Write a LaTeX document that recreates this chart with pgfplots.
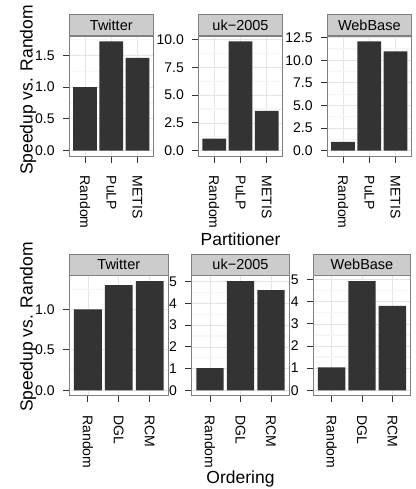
\documentclass[border=0pt]{standalone}
\usepackage{fontspec}
\setmainfont{Liberation Sans}
\usepackage{pgfplots}
\pgfplotsset{compat=1.18}
\definecolor{grey50}{gray}{0.5}
\definecolor{grey20}{gray}{0.2}
\definecolor{grey80}{gray}{0.8}
\definecolor{grey90}{gray}{0.9}
\definecolor{grey96}{gray}{0.965}
\definecolor{barc}{HTML}{333333}
\pgfplotsset{
  every axis title shift=0pt,
  panel/.style={
    scale only axis, width=#1, height=120bp,
    anchor=north west,
    xmin=-0.6, xmax=2.6, xtick={0,1,2},
    ybar, bar width=0.9,
    axis line style={draw=grey50, line width=0.7bp},
    tick align=outside, major tick length=6.5bp, minor tick length=0pt,
    tick style={draw=grey20, line width=0.9bp},
    xtick pos=bottom, ytick pos=left,
    ymajorgrids, yminorgrids, xmajorgrids,
    major grid style={draw=grey90, line width=0.7bp},
    minor grid style={draw=grey96, line width=1.2bp},
    /pgf/number format/assume math mode=true,
    scaled y ticks=false,
    yticklabel style={font=\fontsize{14bp}{14bp}\selectfont, anchor=east, inner sep=0pt, xshift=-8bp,
      /pgf/number format/fixed, /pgf/number format/fixed zerofill, /pgf/number format/precision=1},
    xticklabel shift=13bp,
    xticklabel style={font=\fontsize{14bp}{14bp}\selectfont, rotate=-90, anchor=west, inner sep=0pt},
    title style={at={(0.5,1)}, anchor=south, yshift=0pt, draw=grey50, fill=grey80, line width=0.7bp,
      minimum width=#1, minimum height=21.5bp, inner sep=0pt, font=\fontsize{14.5bp}{14.5bp}\selectfont, text=black},
  },
  int/.style={yticklabel style={/pgf/number format/precision=0}},
}
\begin{document}
\begin{tikzpicture}
\useasboundingbox (0,0) rectangle (416bp,-489bp);
% ---------- top row: Partitioner ----------
\begin{axis}[panel=84bp, at={(69.3bp,-36bp)}, title={Twitter},
  ymin=-0.086, ymax=1.806, ytick={0,0.5,1,1.5}, minor ytick={0.25,0.75,1.25,1.75},
  xticklabels={Random,PuLP,METIS}]
\addplot[fill=barc, draw=none] coordinates {(0,1.00) (1,1.72) (2,1.46)};
\end{axis}
\begin{axis}[panel=84bp, at={(198.5bp,-36bp)}, title={uk−2005},
  ymin=-0.4925, ymax=10.34, ytick={0,2.5,5,7.5,10}, minor ytick={1.25,3.75,6.25,8.75},
  xticklabels={Random,PuLP,METIS}]
\addplot[fill=barc, draw=none] coordinates {(0,1.07) (1,9.85) (2,3.58)};
\end{axis}
\begin{axis}[panel=84bp, at={(327.3bp,-36bp)}, title={WebBase},
  ymin=-0.6045, ymax=12.69, ytick={0,2.5,5,7.5,10,12.5}, minor ytick={1.25,3.75,6.25,8.75,11.25},
  xticklabels={Random,PuLP,METIS}]
\addplot[fill=barc, draw=none] coordinates {(0,0.96) (1,12.09) (2,10.99)};
\end{axis}
% ---------- bottom row: Ordering ----------
\begin{axis}[panel=99bp, at={(69.3bp,-275.7bp)}, title={Twitter},
  ymin=-0.0675, ymax=1.4175, ytick={0,0.5,1}, minor ytick={0.25,0.75,1.25},
  xticklabels={Random,DGL,RCM}]
\addplot[fill=barc, draw=none] coordinates {(0,1.00) (1,1.30) (2,1.35)};
\end{axis}
\begin{axis}[panel=97.6bp, at={(191.7bp,-275.7bp)}, title={uk−2005}, int,
  ymin=-0.2515, ymax=5.28, ytick={0,1,2,3,4,5}, minor ytick={0.5,1.5,2.5,3.5,4.5},
  xticklabels={Random,DGL,RCM}]
\addplot[fill=barc, draw=none] coordinates {(0,1.02) (1,5.03) (2,4.62)};
\end{axis}
\begin{axis}[panel=97.4bp, at={(313.3bp,-275.7bp)}, title={WebBase}, int,
  ymin=-0.2465, ymax=5.1765, ytick={0,1,2,3,4,5}, minor ytick={0.5,1.5,2.5,3.5,4.5},
  xticklabels={Random,DGL,RCM}]
\addplot[fill=barc, draw=none] coordinates {(0,1.03) (1,4.93) (2,3.81)};
\end{axis}
% ---------- axis titles ----------
\node[rotate=90, anchor=base, font=\fontsize{17.5bp}{17.5bp}\selectfont] at (32.5bp,-90bp) {Speedup vs. Random};
\node[rotate=90, anchor=base, font=\fontsize{17.5bp}{17.5bp}\selectfont] at (32.5bp,-327bp) {Speedup vs. Random};
\node[anchor=base, font=\fontsize{17.5bp}{17.5bp}\selectfont] at (240.5bp,-245bp) {Partitioner};
\node[anchor=base, font=\fontsize{17.5bp}{17.5bp}\selectfont] at (240.5bp,-483bp) {Ordering};
\end{tikzpicture}
\end{document}
